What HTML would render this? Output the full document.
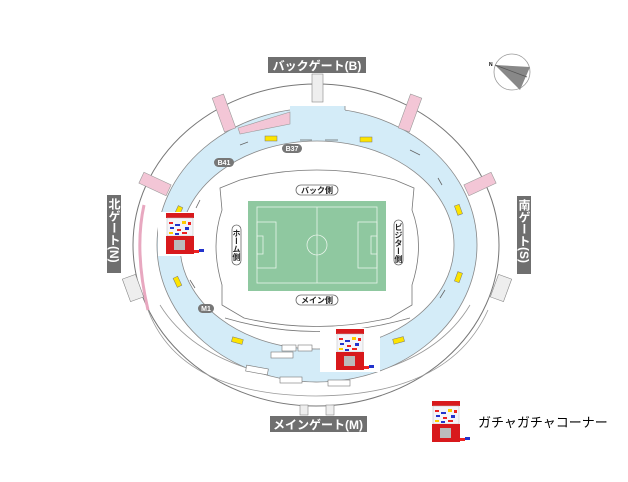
<!DOCTYPE html>
<html><head><meta charset="utf-8"><style>
html,body{margin:0;padding:0;background:#fff;}
body{width:628px;height:482px;overflow:hidden;}
svg{display:block;}
text{font-family:"Liberation Sans","Noto Sans CJK JP",sans-serif;}
</style></head><body>
<svg width="628" height="482" viewBox="0 0 628 482" xmlns="http://www.w3.org/2000/svg">
<defs>
<g id="gm">
<rect x="0" y="0" width="52" height="44" fill="#fff"/>
<rect x="8" y="1" width="28" height="5" fill="#d8191c"/>
<rect x="9" y="6" width="26" height="18" fill="#f4f4f8" stroke="#bbb" stroke-width="0.5"/>
<rect x="11" y="10" width="4" height="2" fill="#e22"/><rect x="17" y="12" width="5" height="2" fill="#23c"/>
<rect x="24" y="9" width="4" height="3" fill="#fc0"/><rect x="12" y="15" width="4" height="2" fill="#23c"/>
<rect x="19" y="17" width="4" height="2" fill="#e22"/><rect x="27" y="15" width="4" height="3" fill="#23c"/>
<rect x="11" y="20" width="4" height="2" fill="#fc0"/><rect x="17" y="21" width="4" height="2" fill="#23c"/>
<rect x="24" y="20" width="5" height="2" fill="#e22"/><rect x="30" y="10" width="3" height="3" fill="#e22"/>
<rect x="8" y="24" width="28" height="18" fill="#d8191c"/>
<rect x="16" y="28" width="11" height="10" fill="#bbb"/>
<rect x="36" y="38" width="5" height="3" fill="#e22"/><rect x="41" y="37" width="5" height="3" fill="#23c"/>
</g>
</defs>

<ellipse cx="316" cy="245" rx="183" ry="161" fill="none" stroke="#777" stroke-width="1"/>
<path d="M160 305 Q200 370 316 382 Q430 372 470 305" fill="none" stroke="#999" stroke-width="0.8"/>
<path d="M148 310 Q180 395 316 396 Q450 395 488 310" fill="none" stroke="#999" stroke-width="0.8"/>
<path fill-rule="evenodd" fill="#d4ecf8" stroke="#888" stroke-width="0.8" d="M157 245 A160 137 0 1 1 477 245 A160 137 0 1 1 157 245 Z M180 245 A137 104 0 1 0 454 245 A137 104 0 1 0 180 245 Z"/>
<path d="M290 106 L345 106 L345 122 L290 122 Z" fill="#d4ecf8"/>
<path d="M345 106 L345 110" stroke="#888" stroke-width="0.8"/>
<g fill="#f3c6d6" stroke="#999" stroke-width="0.6">
<rect x="218" y="95" width="12" height="36" transform="rotate(-20 224 113)"/>
<rect x="404" y="95" width="12" height="36" transform="rotate(20 410 113)"/>
<rect x="140" y="178" width="30" height="12" transform="rotate(25 155 184)"/>
<rect x="465" y="178" width="30" height="12" transform="rotate(-25 480 184)"/>
<path d="M238 128 L290 112 L290 124 L240 134 Z"/>
</g>
<path d="M144 205 Q134 250 148 310" fill="none" stroke="#e8a8c0" stroke-width="3"/>
<g fill="#eee" stroke="#888" stroke-width="0.6">
<rect x="312" y="74" width="11" height="28"/>
<rect x="126" y="276" width="14" height="24" transform="rotate(-20 133 288)"/>
<rect x="494" y="276" width="14" height="24" transform="rotate(20 501 288)"/>
<rect x="300" y="405" width="8" height="10"/><rect x="326" y="405" width="8" height="10"/>
</g>
<path d="M220 188 L240 180 Q316 160 395 180 L414 188 L412 210 Q425 245 412 285 L412 305 L390 318 Q316 335 244 318 L222 305 L222 285 Q210 245 222 210 Z" fill="#fff" stroke="#777" stroke-width="0.8"/>
<path d="M225 318 Q316 345 410 318" fill="none" stroke="#777" stroke-width="0.8"/>
<g fill="#fde400" stroke="#777" stroke-width="0.5">
<rect x="265" y="136" width="12" height="5"/><rect x="360" y="137" width="12" height="5"/>
<rect x="176" y="206" width="5" height="10" transform="rotate(25 178 211)"/>
<rect x="456" y="205" width="5" height="10" transform="rotate(-20 458 210)"/>
<rect x="456" y="272" width="5" height="10" transform="rotate(20 458 277)"/>
<rect x="175" y="277" width="5" height="10" transform="rotate(-25 177 282)"/>
<rect x="232" y="338" width="11" height="5" transform="rotate(15 237 340)"/>
<rect x="393" y="338" width="11" height="5" transform="rotate(-15 398 340)"/>
</g>
<g stroke="#666" stroke-width="0.8" fill="none">
<path d="M240 145 L248 142 M300 140 L312 140 M325 140 L338 140 M410 150 L420 155 M438 178 L442 185 M200 200 L196 208 M445 290 L440 298 M190 280 L195 288"/>
</g>
<g fill="#777"><rect x="214" y="158" width="20" height="9" rx="4.5"/><rect x="282" y="144" width="20" height="9" rx="4.5"/><rect x="198" y="304" width="16" height="9" rx="4.5"/></g>
<g fill="#fff" font-size="7" font-weight="bold" text-anchor="middle"><text x="224" y="165">B41</text><text x="292" y="151">B37</text><text x="206" y="311">M1</text></g>
<rect x="248" y="201" width="138" height="90" fill="#8fc8a0"/>
<g fill="none" stroke="#e8f4ea" stroke-width="0.8">
<rect x="257" y="207" width="120" height="76"/>
<line x1="317" y1="207" x2="317" y2="283"/>
<circle cx="317" cy="245" r="10"/>
<rect x="257" y="222" width="19" height="46"/><rect x="358" y="222" width="19" height="46"/>
<rect x="257" y="236" width="6" height="18"/><rect x="371" y="236" width="6" height="18"/>
</g>
<g fill="#fff" stroke="#666" stroke-width="0.8">
<rect x="296" y="185" width="42" height="10" rx="5"/><rect x="296" y="295" width="42" height="10" rx="5"/>
<rect x="232" y="225" width="9" height="40" rx="4.5"/><rect x="394" y="220" width="9" height="45" rx="4.5"/>
</g>
<g font-size="8" font-weight="bold" fill="#222" text-anchor="middle">
<text x="317" y="193">バック側</text><text x="317" y="303">メイン側</text>
</g>
<text x="236.5" y="229" font-size="8" font-weight="bold" fill="#222" style="writing-mode:tb" text-anchor="start">ホーム側</text>
<text x="398.5" y="223" font-size="8" font-weight="bold" fill="#222" style="writing-mode:tb" text-anchor="start">ビジター側</text>
<g fill="#fff" stroke="#777" stroke-width="0.6">
<rect x="282" y="345" width="14" height="6"/><rect x="298" y="345" width="14" height="6"/><rect x="271" y="352" width="22" height="6"/>
<rect x="246" y="367" width="22" height="6" transform="rotate(10 257 370)"/><rect x="280" y="377" width="22" height="6"/><rect x="328" y="380" width="22" height="6"/>
</g>
<g fill="#6f6f6f">
<rect x="268" y="57" width="98" height="16"/><rect x="270" y="416" width="97" height="16"/>
<rect x="107" y="195" width="14" height="78"/><rect x="517" y="196" width="14" height="78"/>
</g>
<g fill="#fff" font-size="12" font-weight="bold" text-anchor="middle">
<text x="317" y="70">バックゲート(B)</text><text x="318" y="429">メインゲート(M)</text>
</g>
<text x="114" y="198" fill="#fff" font-size="12" font-weight="bold" style="writing-mode:tb">北ゲート(N)</text>
<text x="524" y="199" fill="#fff" font-size="12" font-weight="bold" style="writing-mode:tb">南ゲート(S)</text>
<circle cx="512" cy="72" r="18" fill="#fff" stroke="#999" stroke-width="0.8"/>
<path d="M495 65 L530 67 L520 90 Z" fill="#888"/>
<line x1="495" y1="65" x2="527" y2="77" stroke="#555" stroke-width="0.8"/>
<text x="489" y="66" font-size="5" font-weight="bold">N</text>
<use href="#gm" x="158" y="212"/>
<rect x="320" y="328" width="60" height="44" fill="#fff"/>
<use href="#gm" x="328" y="328"/>
<use href="#gm" x="424" y="400"/>
<text x="478" y="427" font-size="13" fill="#000">ガチャガチャコーナー</text>
</svg>
</body></html>
